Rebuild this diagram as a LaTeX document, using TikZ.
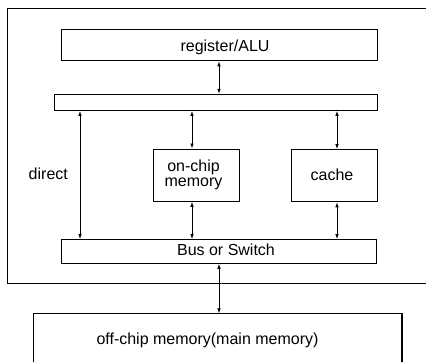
\documentclass[tikz,border=0pt]{standalone}
\usepackage{fontspec}
\setmainfont{Liberation Sans}
\usetikzlibrary{arrows.meta}
\begin{document}
\begin{tikzpicture}[x=1pt,y=-1pt,
  box/.style={draw=black, line width=1.3pt, inner sep=0pt, anchor=north west},
  frame/.style={draw=none, inner sep=0pt, anchor=north west},
  lbl/.style={inner sep=0pt, font=\fontsize{16pt}{15pt}\selectfont, text=black},
  arr/.style={line width=0.8pt, {Latex[length=5pt,width=3.6pt]}-{Latex[length=5pt,width=3.6pt]}}]
\useasboundingbox (0,0) rectangle (426,362);
\fill[white] (0,0) rectangle (426,362);
% outer chip frame (runs off the right edge)
\node[frame, minimum width=418.5pt, minimum height=274.5pt] (chip) at (7.5,8.5) {};
\draw[line width=1.8pt] (chip.north east) -- (chip.north west) -- (chip.south west) -- (chip.south east);
% boxes
\node[box, minimum width=316pt, minimum height=31pt] (reg) at (61,29) {};
\node[box, minimum width=323.3pt, minimum height=15.8pt] (bar) at (53.5,93.8) {};
\node[box, minimum width=85.5pt, minimum height=52pt] (oc) at (153,148.5) {};
\node[box, minimum width=85.5pt, minimum height=52pt] (cache) at (291,149) {};
\node[box, minimum width=315.5pt, minimum height=23.5pt] (bus) at (60.5,239) {};
% off-chip box (runs off the bottom edge)
\node[frame, minimum width=368pt, minimum height=48.7pt] (off) at (33.5,313.3) {};
\draw[line width=1.3pt] (off.south west) -- (off.north west) -- (off.north east) -- (off.south east);
% texts
\node[lbl, anchor=base] (regtxt) at (225,51) {register/ALU};
\node[lbl, align=center] (octxt) at (193.5,175) {on-chip\\memory};
\node[lbl, anchor=base] (cachetxt) at (332,180.7) {cache};
\node[lbl, anchor=base] (dirtxt) at (48.3,179.3) {direct};
\node[lbl, anchor=base] (bustxt) at (226,255) {Bus or Switch};
\node[lbl, anchor=base] (offtxt) at (207.5,344) {off-chip memory(main memory)};
% connector x positions
\coordinate (xa) at (219,0);
\coordinate (xd) at (80,0);
\coordinate (xo) at (192,0);
\coordinate (xc) at (337,0);
% connectors
\draw[arr] (reg.south -| xa) -- (bar.north -| xa);
\draw[arr] (bar.south -| xd) -- (bus.north -| xd);
\draw[arr] (bar.south -| xo) -- (oc.north -| xo);
\draw[arr] (bar.south -| xc) -- (cache.north -| xc);
\draw[arr] (oc.south -| xo) -- (bus.north -| xo);
\draw[arr] (cache.south -| xc) -- (bus.north -| xc);
\draw[arr] (bus.south -| xa) -- (off.north -| xa);
\end{tikzpicture}
\end{document}
